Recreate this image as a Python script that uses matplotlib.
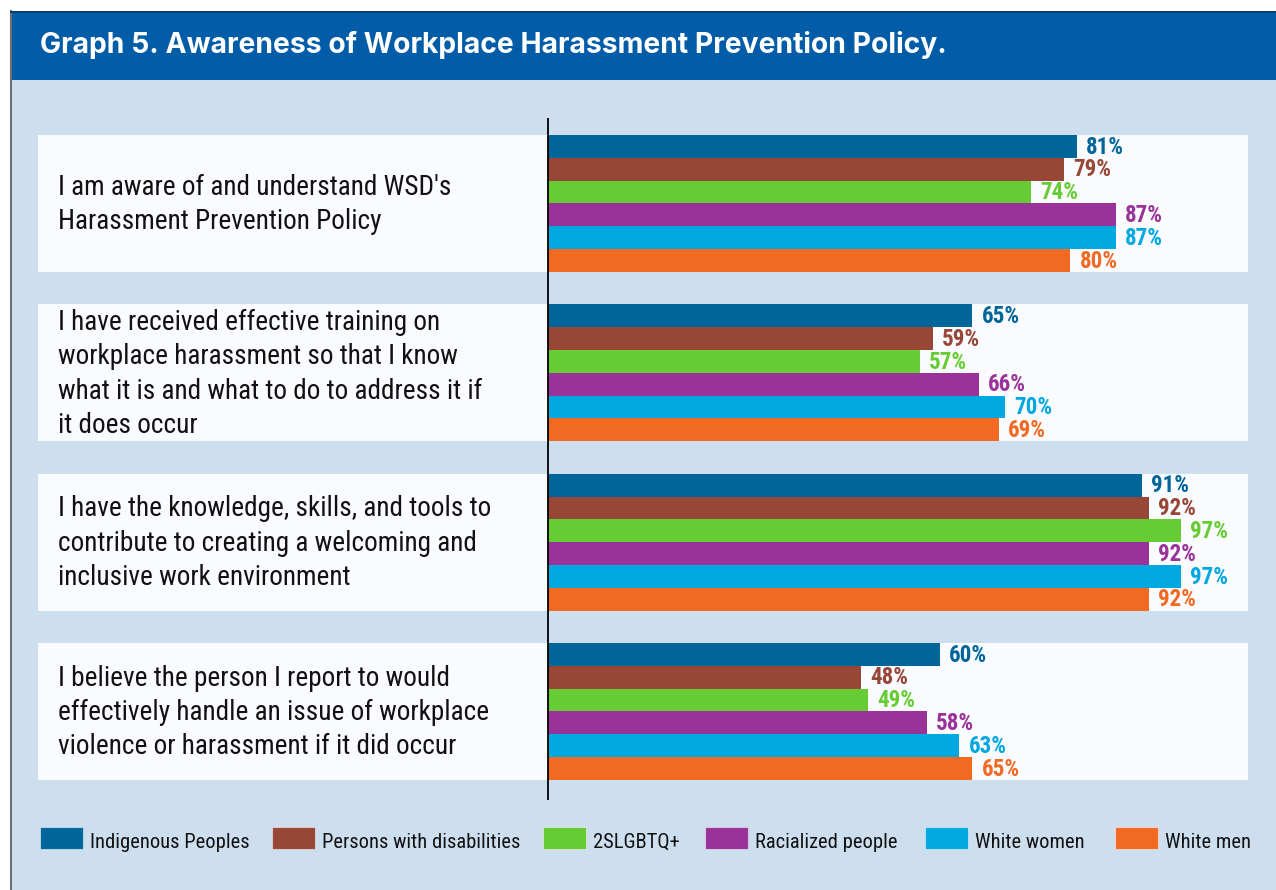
import matplotlib
matplotlib.use("Agg")
import matplotlib.pyplot as plt
from matplotlib.patches import Rectangle
from matplotlib import font_manager as fm
import numpy as np

# ---- data ----
categories = [
    "I am aware of and understand WSD's\nHarassment Prevention Policy",
    "I have received effective training on\nworkplace harassment so that I know\nwhat it is and what to do to address it if\nit does occur",
    "I have the knowledge, skills, and tools to\ncontribute to creating a welcoming and\ninclusive work environment",
    "I believe the person I report to would\neffectively handle an issue of workplace\nviolence or harassment if it did occur",
]
series_names = ["Indigenous Peoples", "Persons with disabilities", "2SLGBTQ+",
                "Racialized people", "White women", "White men"]
indigenous = [81, 65, 91, 60]
disabilities = [79, 59, 92, 48]
lgbtq = [74, 57, 97, 49]
racialized = [87, 66, 92, 58]
white_women = [87, 70, 97, 63]
white_men = [80, 69, 92, 65]
values = [indigenous, disabilities, lgbtq, racialized, white_women, white_men]
colors = ["#00669a", "#984636", "#66cc33", "#993399", "#00a8e1", "#f26a22"]
title = "Graph 5. Awareness of Workplace Harassment Prevention Policy."

W, H = 1276, 890

# ---- pick a narrow font if one is installed ----
names = [f.name for f in fm.fontManager.ttflist]
NARROW_FAMILY = None
NARROW_STRETCH = "normal"
for cand in ["Liberation Sans Narrow", "Roboto Condensed", "Open Sans Condensed",
             "Noto Sans Condensed", "Arial Narrow", "DejaVu Sans Condensed"]:
    if cand in names:
        NARROW_FAMILY = cand
        break
if NARROW_FAMILY is None:
    for f in fm.fontManager.ttflist:
        if str(f.stretch) in ("condensed", "semi-condensed", "extra-condensed") and \
                f.name in ("DejaVu Sans", "Noto Sans", "Roboto", "Open Sans", "Liberation Sans"):
            NARROW_FAMILY = f.name
            NARROW_STRETCH = "condensed"
            break
if NARROW_FAMILY is None:
    NARROW_FAMILY = "Liberation Sans" if "Liberation Sans" in names else "DejaVu Sans"
NARROW = [NARROW_FAMILY, "DejaVu Sans"]
TITLEF = ["Inter", "Liberation Sans", "DejaVu Sans"]

fig = plt.figure(figsize=(W / 100, H / 100), dpi=100)
fig.patch.set_facecolor("white")
renderer = fig.canvas.get_renderer()


def fx(x):
    return x / W


def fy(y):
    return 1 - y / H


def fit(t, target_px, max_size):
    """shrink font size so that text width matches target."""
    t.set_fontsize(max_size)
    w = t.get_window_extent(renderer).width
    if w > 0:
        t.set_fontsize(max_size * target_px / w)
    return t


# background and title bar
fig.patches.append(Rectangle((fx(10), fy(890)), fx(W - 10), (890 - 80) / H,
                             transform=fig.transFigure, facecolor="#cddeee",
                             edgecolor="none", zorder=-10))
fig.patches.append(Rectangle((fx(10), fy(80)), fx(W - 10), (80 - 11) / H,
                             transform=fig.transFigure, facecolor="#035ca7",
                             edgecolor="none", zorder=-10))
fig.patches.append(Rectangle((fx(10), fy(13)), fx(W - 10), 2 / H,
                             transform=fig.transFigure, facecolor="#0b3f72",
                             edgecolor="none", zorder=-9))
fig.lines.append(plt.Line2D([fx(10.5), fx(10.5)], [fy(11), fy(890)],
                            transform=fig.transFigure, color="#6e6e6e", lw=1.5,
                            zorder=-9))
tt = fig.text(fx(40), fy(45), title, color="white", fontweight="bold",
              family=TITLEF, va="center", ha="left")
fit(tt, 908, 20)

# main axes
pxper = 6.53
x0 = 548
ax = fig.add_axes([fx(38), fy(800), fx(1248 - 38), (800 - 118) / H])
ax.set_xlim((38 - x0) / pxper, (1248 - x0) / pxper)
pitch = 169.33
bh = 22.8 / pitch
ytop = -(203.5 - 118) / pitch
ax.set_ylim(ytop + 682 / pitch, ytop)
ax.axis("off")
ax.patch.set_alpha(0)

centers = np.arange(len(categories))
for c in centers:
    ax.axhspan(c - 3 * bh, c + 3 * bh, color="#f9fbfe", zorder=0, lw=0)

vlabels = []
for j, (vals, col) in enumerate(zip(values, colors)):
    y = centers - 2.5 * bh + j * bh
    ax.barh(y, vals, height=bh, color=col, zorder=2, lw=0)
    for yy, v in zip(y, vals):
        t = ax.text(v + 9 / pxper, yy + 0.004, f"{v}%", va="center", ha="left",
                    fontsize=14, fontweight="bold", color=col, family=NARROW,
                    fontstretch=NARROW_STRETCH, zorder=3)
        vlabels.append(t)
# size value labels: "97%" ~ 38 px wide
probe = fig.text(0, 0, "97%", fontweight="bold", family=NARROW, fontstretch=NARROW_STRETCH)
fit(probe, 38, 15)
vsize = probe.get_fontsize()
probe.remove()
for t in vlabels:
    t.set_fontsize(vsize)

# category labels; widest line ~425 px
probe = fig.text(0, 0, "what it is and what to do to address it if", family=NARROW,
                 fontstretch=NARROW_STRETCH)
fit(probe, 425, 18)
csize = probe.get_fontsize()
probe.remove()
# measure line pitch to get ~35 px between baselines
p1 = fig.text(0, 0, "Ag", fontsize=csize, family=NARROW, fontstretch=NARROW_STRETCH,
              linespacing=1.0)
p2 = fig.text(0, 0, "Ag\nAg", fontsize=csize, family=NARROW, fontstretch=NARROW_STRETCH,
              linespacing=1.0)
pitch1 = p2.get_window_extent(renderer).height - p1.get_window_extent(renderer).height
p1.remove()
p2.remove()
lsp = 36.5 / pitch1 if pitch1 > 0 else 1.3
for c, lab in zip(centers, categories):
    ax.text((58 - x0) / pxper, c + 0.006, lab, va="center", ha="left", fontsize=csize,
            color="#111111", family=NARROW, fontstretch=NARROW_STRETCH,
            linespacing=lsp, zorder=3)

ax.axvline(0, color="black", lw=1.3, zorder=4)

# legend
patch_x = [40, 272, 543, 705, 925, 1115]
probe = fig.text(0, 0, "Indigenous Peoples", family=NARROW, fontstretch=NARROW_STRETCH)
fit(probe, 159, 15)
lsize = probe.get_fontsize()
probe.remove()
for name, col, px in zip(series_names, colors, patch_x):
    fig.patches.append(Rectangle((fx(px), fy(849)), 43 / W, 22 / H,
                                 transform=fig.transFigure, facecolor=col,
                                 edgecolor="#ffffff80", lw=0.8, zorder=2))
    fig.text(fx(px + 50), fy(842), name, fontsize=lsize, color="#111111",
             family=NARROW, fontstretch=NARROW_STRETCH, va="center", ha="left")

fig.savefig("out.png", dpi=100)
